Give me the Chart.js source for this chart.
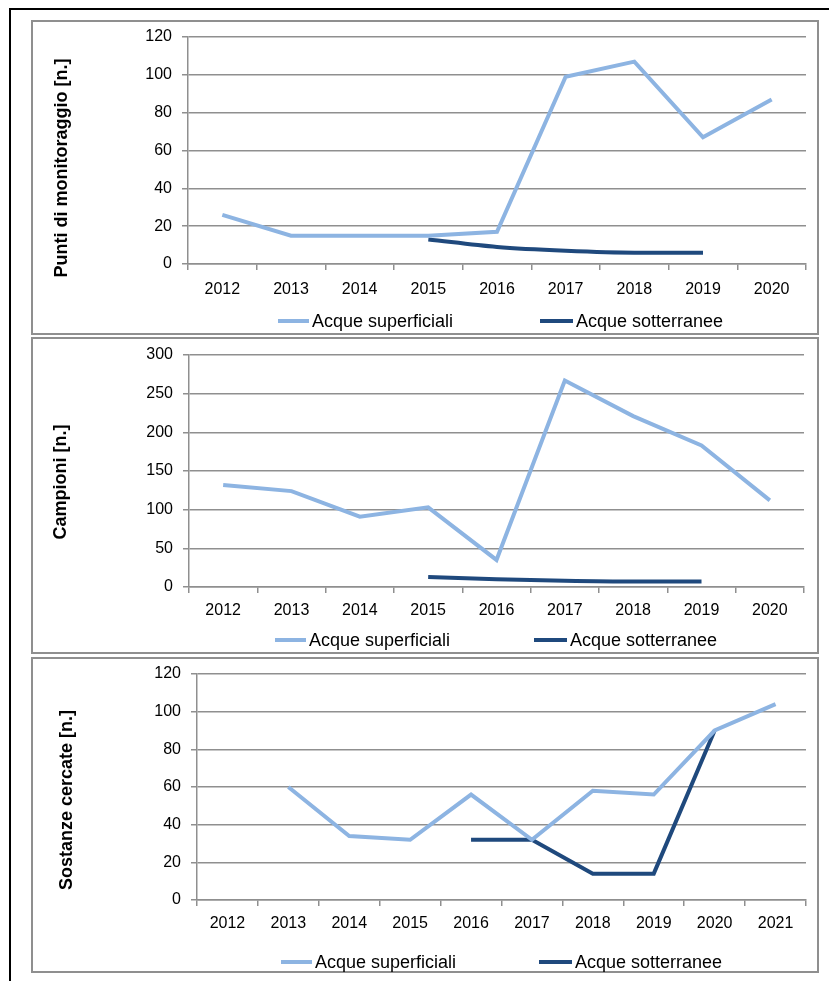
<!DOCTYPE html>
<html>
<head>
<meta charset="utf-8">
<script src="https://cdn.jsdelivr.net/npm/chart.js@4"></script>
<style>
    html, body { margin: 0; padding: 0; background: #fff; overflow: hidden; }
    body { width: 829px; height: 981px; position: relative; font-family: "Liberation Sans", Arial, sans-serif; }
    .frame { position: absolute; left: 9px; top: 8px; width: 900px; height: 1000px; border: 2px solid #000; box-sizing: border-box; }
    .panel { position: absolute; left: 31px; width: 788px; border: 2px solid #8f8f8f; box-sizing: border-box; background: #fff; }
    .panel canvas { position: absolute; left: 0; top: 0; }
    .ytitle { position: absolute; font-weight: bold; font-size: 18px; white-space: nowrap; color: #000;
              transform: translate(-50%, -50%) rotate(-90deg); }
    .lg-line { position: absolute; height: 4px; }
    .lg-text { position: absolute; font-size: 18px; color: #000; white-space: nowrap; transform: translateY(-50%); }
</style>
</head>
<body>
<div class="frame"></div>

<div class="panel" id="p1" style="top:20px;height:315px;"><canvas id="c1"></canvas></div>
<div class="panel" id="p2" style="top:337px;height:317px;"><canvas id="c2"></canvas></div>
<div class="panel" id="p3" style="top:657px;height:316px;"><canvas id="c3"></canvas></div>

<div class="ytitle" style="left:61px;top:168px;">Punti di monitoraggio [n.]</div>
<div class="ytitle" style="left:60px;top:482px;">Campioni [n.]</div>
<div class="ytitle" style="left:66px;top:800px;">Sostanze cercate [n.]</div>

<script>
// dati
var anni = ['2012', '2013', '2014', '2015', '2016', '2017', '2018', '2019', '2020'];
var anniSostanze = ['2012', '2013', '2014', '2015', '2016', '2017', '2018', '2019', '2020', '2021'];

var puntiSuperficiali = [26, 15, 15, 15, 17, 99, 107, 67, 87];
var puntiSotterranee  = [null, null, null, 13, 9, 7, 6, 6, null];

var campioniSuperficiali = [132, 124, 91, 103, 35, 267, 221, 183, 112];
var campioniSotterranee  = [null, null, null, 13, 10, 8, 7, 7, null];

var sostanzeSuperficiali = [null, 60, 34, 32, 56, 32, 58, 56, 90, 104];
var sostanzeSotterranee  = [null, null, null, null, 32, 32, 14, 14, 90, null];

var serieNomi = ['Acque superficiali', 'Acque sotterranee'];
var coloreSup = '#8db4e2';
var coloreSott = '#1f497d';

function makeChart(opt) {
    var panel = document.getElementById(opt.panel);
    var canvas = document.getElementById(opt.canvas);
    var w = panel.clientWidth, h = panel.clientHeight;
    canvas.style.width = w + 'px';
    canvas.style.height = h + 'px';

    var chart = new Chart(canvas, {
        type: 'line',
        data: {
            labels: opt.labels,
            datasets: [
                {
                    label: serieNomi[0],
                    data: opt.sup,
                    borderColor: coloreSup,
                    backgroundColor: coloreSup,
                    borderWidth: 4,
                    pointRadius: 0,
                    tension: 0
                },
                {
                    label: serieNomi[1],
                    data: opt.sott,
                    borderColor: coloreSott,
                    backgroundColor: coloreSott,
                    borderWidth: 4,
                    pointRadius: 0,
                    cubicInterpolationMode: opt.smooth ? 'monotone' : 'default',
                    tension: opt.smooth ? 0.4 : 0
                }
            ]
        },
        options: {
            responsive: false,
            animation: false,
            layout: { padding: { left: 0, top: opt.top, right: w - opt.right, bottom: h - opt.bottom - 40 } },
            plugins: {
                legend: { display: false },
                tooltip: { enabled: false }
            },
            scales: {
                x: {
                    offset: true,
                    grid: { offset: true, drawOnChartArea: false, tickLength: 6, color: '#8f8f8f', lineWidth: 1.5 },
                    border: { color: '#8f8f8f', width: 1.5 },
                    ticks: { color: '#000', padding: opt.xpad, maxRotation: 0, font: { family: 'Liberation Sans', size: 16 } },
                    afterFit: function (s) { s.height = 40; s.paddingLeft = 0; s.paddingRight = 0; }
                },
                y: {
                    min: 0,
                    max: opt.max,
                    grid: { color: '#8f8f8f', lineWidth: 1.5, tickLength: 6 },
                    border: { color: '#8f8f8f', width: 1.5 },
                    ticks: { stepSize: opt.step, color: '#000', padding: 10, font: { family: 'Liberation Sans', size: 16 } },
                    afterFit: function (s) { s.width = opt.left; s.paddingTop = 0; s.paddingBottom = 0; }
                }
            }
        }
    });

    // legenda HTML costruita dai dataset
    chart.data.datasets.forEach(function (ds, i) {
        var line = document.createElement('div');
        line.className = 'lg-line';
        line.style.background = ds.borderColor;
        line.style.left = opt.legendX[i] + 'px';
        line.style.width = opt.legendW[i] + 'px';
        line.style.top = (opt.legendY - 2) + 'px';
        document.body.appendChild(line);
        var txt = document.createElement('div');
        txt.className = 'lg-text';
        txt.textContent = ds.label;
        txt.style.left = (opt.legendX[i] + opt.legendW[i] + 3) + 'px';
        txt.style.top = opt.legendY + 'px';
        document.body.appendChild(txt);
    });
    return chart;
}

makeChart({
    panel: 'p1', canvas: 'c1', labels: anni, sup: puntiSuperficiali, sott: puntiSotterranee,
    max: 120, step: 20, smooth: true,
    left: 155, right: 773, top: 15, bottom: 242, xpad: 10,
    legendX: [278, 540], legendW: [31, 33], legendY: 321
});
makeChart({
    panel: 'p2', canvas: 'c2', labels: anni, sup: campioniSuperficiali, sott: campioniSotterranee,
    max: 300, step: 50, smooth: true,
    left: 156, right: 771, top: 16, bottom: 248, xpad: 8,
    legendX: [275, 534], legendW: [31, 33], legendY: 640
});
makeChart({
    panel: 'p3', canvas: 'c3', labels: anniSostanze, sup: sostanzeSuperficiali, sott: sostanzeSotterranee,
    max: 120, step: 20, smooth: false,
    left: 164, right: 773, top: 15, bottom: 241, xpad: 8,
    legendX: [281, 539], legendW: [31, 33], legendY: 962
});
</script>
</body>
</html>
